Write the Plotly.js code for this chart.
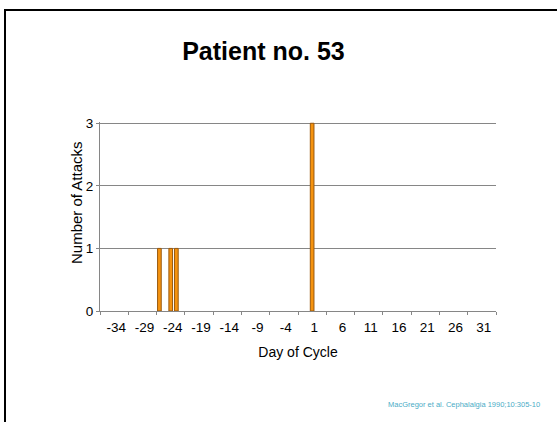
<!DOCTYPE html>
<html>
<head>
<meta charset="utf-8">
<script src="https://cdn.plot.ly/plotly-3.0.1.min.js"></script>
<style>
  html, body { margin: 0; padding: 0; background: #ffffff; }
  #frame { position: absolute; left: 4px; top: 9px; width: 600px; height: 500px;
           border-left: 2px solid #000; border-top: 2px solid #000; pointer-events: none; }
  #chart { position: absolute; left: 0; top: 0; width: 557px; height: 422px; }
</style>
</head>
<body>
<div id="chart"></div>
<div id="frame"></div>
<script>
// Data
var chartTitle = "Patient no. 53";
var attackDays = [-26, -24, -23, 1];          // day of cycle with attacks
var attackCounts = [1, 1, 1, 3];              // number of attacks on that day
var tickDays = [-34, -29, -24, -19, -14, -9, -4, 1, 6, 11, 16, 21, 26, 31];
var tickLabels = ["-34", "-29", "-24", "-19", "-14", "-9", "-4", "1", "6", "11", "16", "21", "26", "31"];
var firstDay = -36, lastDay = 33;
var yTicks = [0, 1, 2, 3];
var xTitle = "Day of Cycle";
var yTitle = "Number of Attacks";
var citation = "MacGregor et al. Cephalalgia 1990;10:305-10";

var gridGray = "#868686";
var font = "Arial, 'Liberation Sans', sans-serif";

var trace = {
  type: "bar",
  x: attackDays,
  y: attackCounts,
  width: 0.65,
  marker: { color: "#f5930f", line: { color: "#9a5a10", width: 1 } },
  hoverinfo: "x+y"
};

var layout = {
  width: 557,
  height: 422,
  margin: { l: 100, r: 61, t: 122, b: 111, pad: 0 },
  paper_bgcolor: "rgba(0,0,0,0)",
  plot_bgcolor: "#ffffff",
  showlegend: false,
  font: { family: font, color: "#000000", size: 13 },
  title: {
    text: "<b>" + chartTitle + "</b>",
    font: { family: font, size: 25, color: "#000000" },
    xref: "container", x: 0.473, xanchor: "center",
    yref: "container", y: 0.878, yanchor: "middle"
  },
  xaxis: {
    range: [firstDay - 0.5, lastDay + 0.5],
    tickmode: "array",
    tickvals: tickDays,
    ticktext: tickLabels,
    ticks: "",
    ticklabelshift: 2,
    ticklabelstandoff: 4,
    tickfont: { family: font, size: 13.5, color: "#000000" },
    showgrid: false,
    zeroline: false,
    showline: true,
    linecolor: gridGray,
    linewidth: 1,
    minor: { tickmode: "linear", tick0: firstDay - 0.5, dtick: 5, ticks: "outside", ticklen: 3, tickcolor: gridGray, tickwidth: 1, showgrid: false },
    title: { text: xTitle, font: { family: font, size: 14, color: "#000000" }, standoff: 12 },
    fixedrange: true
  },
  yaxis: {
    range: [0, 3.02],
    tickmode: "array",
    tickvals: yTicks,
    ticks: "outside",
    ticklen: 3,
    tickcolor: gridGray,
    tickfont: { family: font, size: 13.5, color: "#000000" },
    showgrid: true,
    gridcolor: gridGray,
    gridwidth: 1,
    zeroline: false,
    showline: true,
    linecolor: gridGray,
    linewidth: 1,
    fixedrange: true
  },
  annotations: [
    {
      text: yTitle,
      textangle: -90,
      xref: "paper", yref: "paper",
      x: (76 - 100) / 396, y: (311 - 203) / 189,
      xanchor: "center", yanchor: "middle",
      showarrow: false,
      font: { family: font, size: 15, color: "#000000" }
    },
    {
      text: citation,
      xref: "paper", yref: "paper",
      x: (542 - 100) / 396, y: (311 - 404) / 189,
      xanchor: "right", yanchor: "middle",
      showarrow: false,
      font: { family: font, size: 7.5, color: "#4bacc6" }
    }
  ]
};

Plotly.newPlot("chart", [trace], layout, { displayModeBar: false, staticPlot: true });
</script>
</body>
</html>
